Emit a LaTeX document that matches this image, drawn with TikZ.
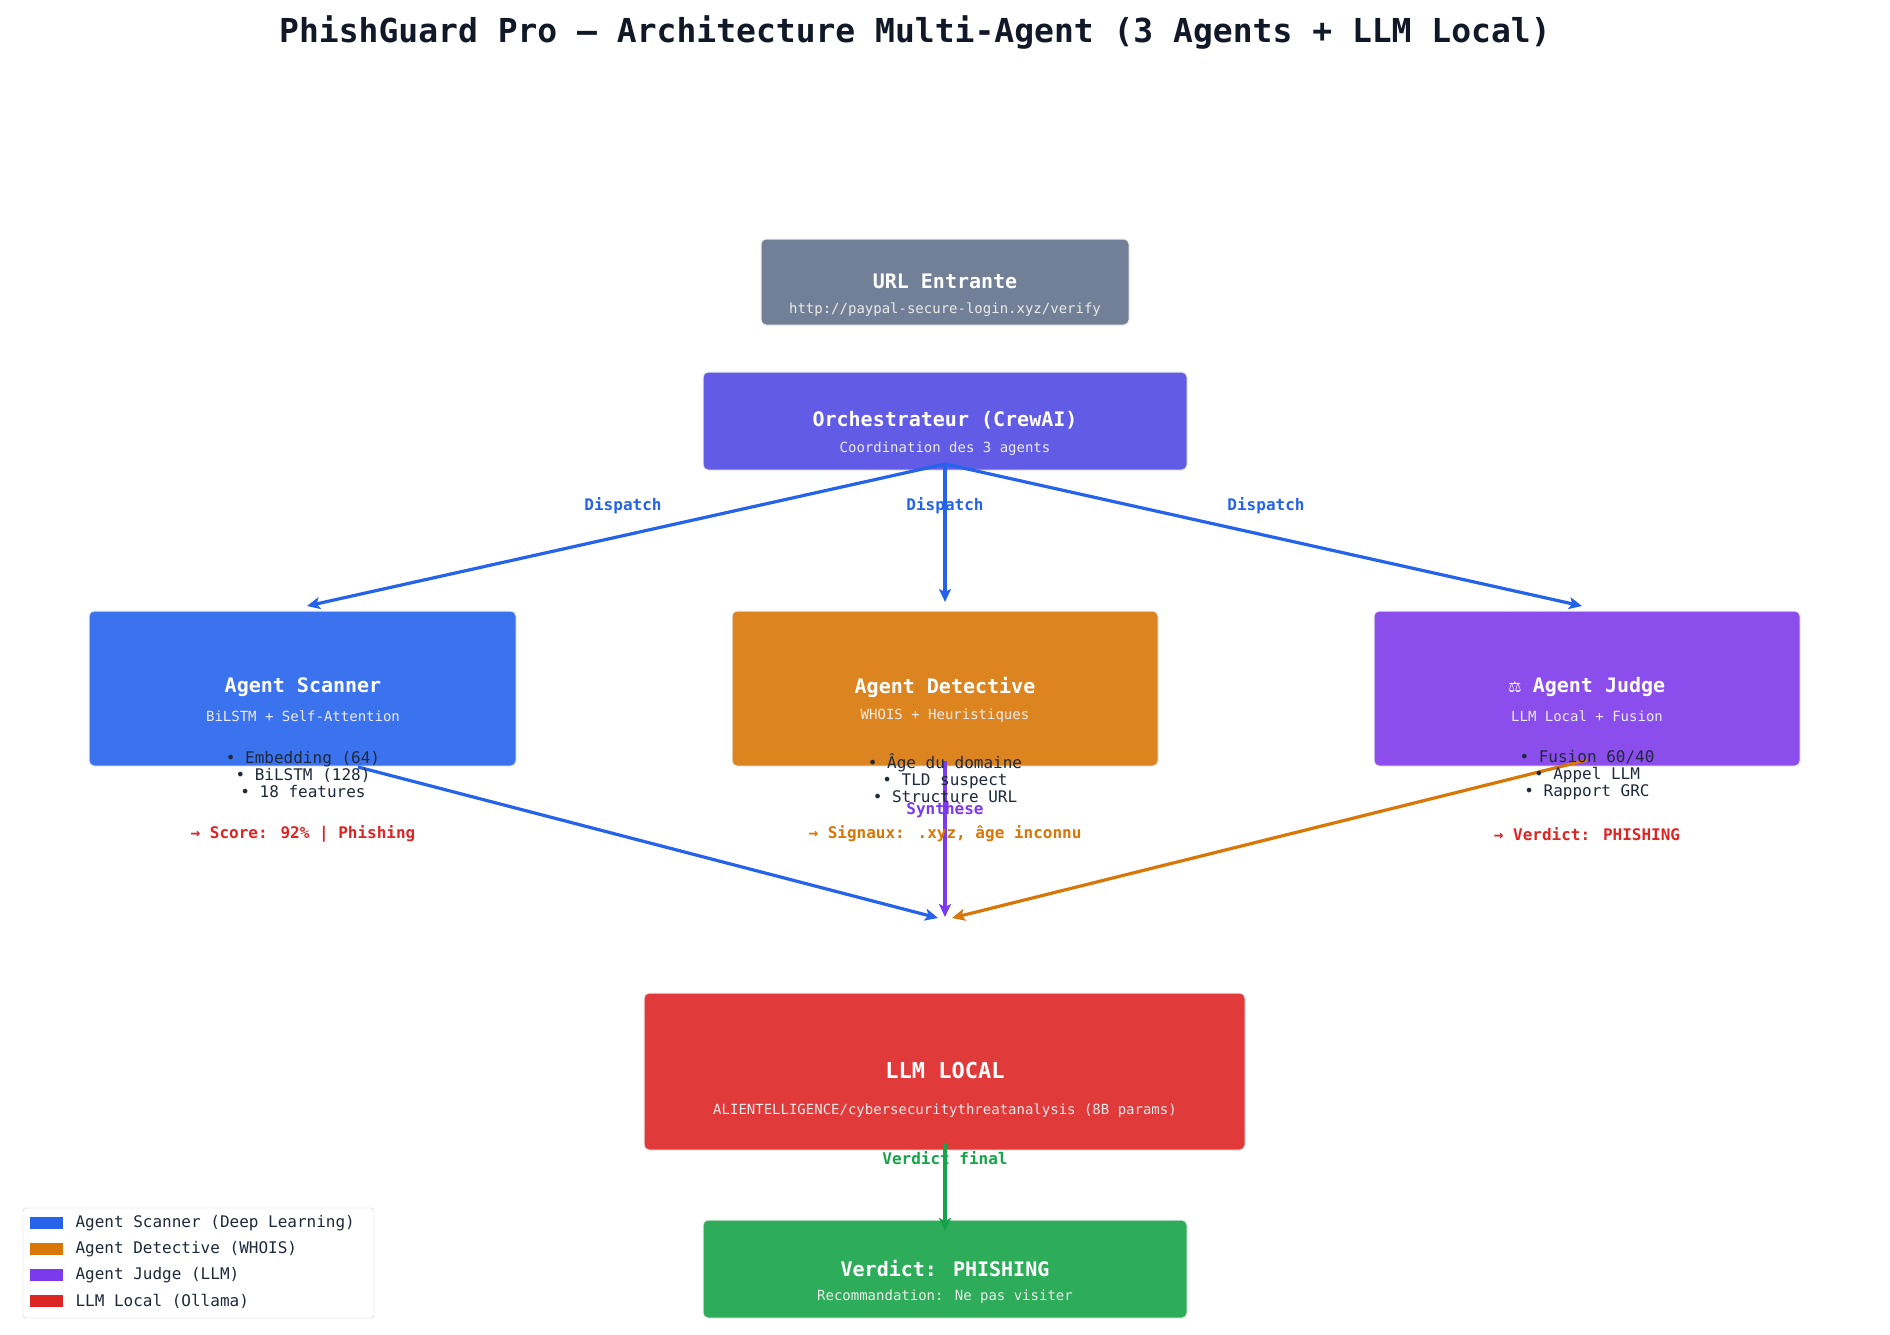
\documentclass[tikz,border=0pt]{standalone}
\usepackage{fontspec}
\setmainfont{DejaVu Sans Mono}
\usetikzlibrary{arrows.meta}
\definecolor{cUrl}{HTML}{718096}
\definecolor{cOrc}{HTML}{625BE6}
\definecolor{cScan}{HTML}{3B73EE}
\definecolor{cDet}{HTML}{DC8520}
\definecolor{cJud}{HTML}{8B4DEB}
\definecolor{cLLM}{HTML}{E03A3A}
\definecolor{cVer}{HTML}{2DAD5A}
\definecolor{aBlue}{HTML}{2563EB}
\definecolor{aOr}{HTML}{D97706}
\definecolor{aPu}{HTML}{7C3AED}
\definecolor{aGr}{HTML}{16A34A}
\definecolor{aRed}{HTML}{DC2626}
\definecolor{txt}{HTML}{1E293B}
\definecolor{ttl}{HTML}{111827}
\begin{document}
\begin{tikzpicture}[x=1pt,y=-1pt,
 box/.style={draw=white!85!gray,line width=1pt,rounded corners=5pt},
 bt/.style={text=white,font=\bfseries\fontsize{20}{24}\selectfont},
 st/.style={text=white!92!black,font=\fontsize{14}{17}\selectfont},
 bl/.style={text=txt,font=\fontsize{16}{19}\selectfont,align=center},
 arr/.style={-{Stealth[length=13pt,width=12pt,inset=3pt]},line width=3.2pt},
 lab/.style={font=\bfseries\fontsize{16}{19}\selectfont},
 res/.style={font=\bfseries\fontsize{16}{19}\selectfont}]
\useasboundingbox (0,0) rectangle (1890,1335);
\fill[white] (0,0) rectangle (1890,1335);
\begin{scope}[xshift=-5pt]
\node[text=ttl,font=\bfseries\fontsize{33}{38}\selectfont] (title) at (920,33) {PhishGuard Pro — Architecture Multi-Agent (3 Agents + LLM Local)};
% URL
\draw[box,fill=cUrl] (766,239) rectangle (1134,325);
\node[bt] (urlt) at (950,281) {URL Entrante};
\node[st] (urls) at (950,310) {http://paypal-secure-login.xyz/verify};
% Orchestrator
\draw[box,fill=cOrc] (708,372) rectangle (1192,470);
\node[bt] (orct) at (950,420) {Orchestrateur (CrewAI)};
\node[st] (orcs) at (950,449) {Coordination des 3 agents};
\coordinate (orc) at (950,464);
% Agents
\draw[box,fill=cScan] (94,611) rectangle (521,766);
\node[bt] (scant) at (308,687) {Agent Scanner};
\node[st] (scans) at (308,716) {BiLSTM + Self-Attention};
\draw[box,fill=cDet] (737,611) rectangle (1163,766);
\node[bt] (dett) at (950,687) {Agent Detective};
\node[st] (dets) at (950,716) {WHOIS + Heuristiques};
\draw[box,fill=cJud] (1379,611) rectangle (1805,766);
\node[bt] (judt) at (1592,687) {⚖ Agent Judge};
\node[st] (juds) at (1592,716) {LLM Local + Fusion};
% LLM & verdict
\draw[box,fill=cLLM] (649,993) rectangle (1250,1150);
\node[bt,font=\bfseries\fontsize{22}{26}\selectfont] (llmt) at (950,1070) {LLM LOCAL};
\node[st] (llms) at (950,1111) {ALIENTELLIGENCE/cybersecuritythreatanalysis (8B params)};
\draw[box,fill=cVer] (708,1220) rectangle (1192,1318);
\node[bt] (vert) at (950,1268) {Verdict: PHISHING};
\node[st] (vers) at (950,1297) {Recommandation: Ne pas visiter};
% coordinates
\coordinate (scanIn) at (312,606);
\coordinate (detIn) at (950,602);
\coordinate (judIn) at (1587,606);
\coordinate (scanOut) at (363,767);
\coordinate (detOut) at (950,761);
\coordinate (judOut) at (1592,760);
\coordinate (convL) at (943,918);
\coordinate (convC) at (950,917);
\coordinate (convR) at (957,918);
\coordinate (llmOut) at (950,1143);
\coordinate (verIn) at (950,1231);
% dispatch arrows
\draw[arr,aBlue] (orc) -- (scanIn);
\draw[arr,aBlue] (orc) -- (detIn);
\draw[arr,aBlue] (orc) -- (judIn);
\node[lab,text=aBlue] (d1) at (628,506) {Dispatch};
\node[lab,text=aBlue] (d2) at (950,506) {Dispatch};
\node[lab,text=aBlue] (d3) at (1271,506) {Dispatch};
% synthesis arrows
\draw[arr,aBlue] (scanOut) -- (convL);
\draw[arr,aOr] (judOut) -- (convR);
\draw[arr,aPu] (detOut) -- (convC);
% bullets
\node[bl] (scanb) at (308,775) {• Embedding (64)\\[-2pt]• BiLSTM (128)\\[-2pt]• 18 features};
\node[bl] (detb) at (950,778) {• Âge du domaine\\[-2pt]• TLD suspect\\[-2pt]• Structure URL};
\node[bl] (judb) at (1592,775) {• Fusion 60/40\\[-2pt]• Appel LLM\\[-2pt]• Rapport GRC};
\node[res,text=aRed] (scanr) at (308,834) {→ Score: 92\% | Phishing};
\node[res,text=aOr] (detr) at (950,834) {→ Signaux: .xyz, âge inconnu};
\node[res,text=aRed] (judr) at (1592,834) {→ Verdict: PHISHING};
\node[lab,text=aPu] (syn) at (950,810) {Synthèse};
% final
\draw[arr,aGr] (llmOut) -- (verIn);
\node[lab,text=aGr] (vf) at (950,1158) {Verdict final};
\end{scope}
% legend
\draw[draw=gray!40,fill=white,rounded corners=3pt] (23,1208) rectangle (374,1318);
\foreach \c/\t/\y in {aBlue/Agent Scanner (Deep Learning)/1223,aOr/Agent Detective (WHOIS)/1249,aPu/Agent Judge (LLM)/1275,aRed/LLM Local (Ollama)/1301}{
 \fill[\c] (30,\y-6) rectangle (63,\y+6);
 \node[anchor=west,text=txt,font=\fontsize{16}{19}\selectfont] at (72,\y) {\t};
}
\end{tikzpicture}
\end{document}
